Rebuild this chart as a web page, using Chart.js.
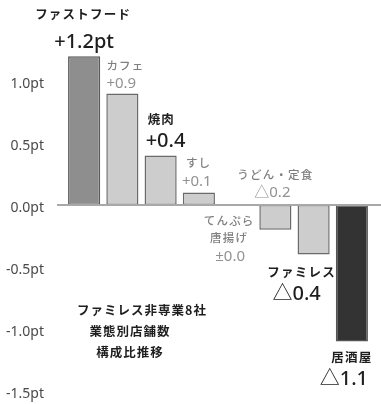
<!DOCTYPE html>
<html>
<head>
<meta charset="utf-8">
<script src="https://cdn.jsdelivr.net/npm/chart.js@4/dist/chart.umd.min.js"></script>
<style>
  html, body { margin: 0; padding: 0; background: #fff; }
  #wrap { width: 381px; height: 404px; }
</style>
</head>
<body>
<div id="wrap"><canvas id="chart"></canvas></div>
<script>
// data
const categories = ['ファストフード', 'カフェ', '焼肉', 'すし', 'てんぷら唐揚げ', 'うどん・定食', 'ファミレス', '居酒屋'];
const changes = [1.2, 0.9, 0.4, 0.1, 0.0, -0.2, -0.4, -1.1];
const nameLines = [['ファストフード'], ['カフェ'], ['焼肉'], ['すし'], ['てんぷら', '唐揚げ'], ['うどん・定食'], ['ファミレス'], ['居酒屋']];
const valueTexts = ['+1.2pt', '+0.9', '+0.4', '+0.1', '±0.0', '△0.2', '△0.4', '△1.1'];
const yTicks = [-1.5, -1.0, -0.5, 0.0, 0.5, 1.0];
const captionLines = ['ファミレス非専業8社', '業態別店舗数', '構成比推移'];

// styles
const barFill = ['#8e8e8e', '#cdcdcd', '#cdcdcd', '#cdcdcd', '#cdcdcd', '#cdcdcd', '#cdcdcd', '#333333'];
const barBorder = ['#5a5a5a', '#6a6a6a', '#6a6a6a', '#6a6a6a', '#6a6a6a', '#6a6a6a', '#6a6a6a', '#555555'];
const FONT = "'Noto Sans', 'Noto Sans CJK JP', sans-serif";
const JFONT = "'Noto Sans CJK JP', sans-serif";

// label layout: strong = bold black, else light gray. ref: 'end' = bar end, 'zero' = zero line
const labelStyle = [
  { strong: true,  align: 'center', ref: 'end',  nx: -1,  ny: -42, vx: 0,   vy: -14 },
  { strong: false, align: 'left',   ref: 'end',  nx: -16, ny: -28, vx: -16, vy: -10 },
  { strong: true,  align: 'left',   ref: 'end',  nx: -13, ny: -36, vx: -15, vy: -14 },
  { strong: false, align: 'left',   ref: 'end',  nx: -13, ny: -30, vx: -17, vy: -11 },
  { strong: false, align: 'center', ref: 'zero', nx: -8,  ny: 16,  vx: -7,  vy: 52, lh: 17 },
  { strong: false, align: 'center', ref: 'zero', nx: 0,   ny: -30, vx: -3,  vy: -12 },
  { strong: true,  align: 'center', ref: 'end',  nx: -12, ny: 18,  vx: -17, vy: 40 },
  { strong: true,  align: 'center', ref: 'end',  nx: 0,   ny: 16,  vx: -8,  vy: 38 }
];

function setSpacing(ctx, px) {
  if ('letterSpacing' in ctx) ctx.letterSpacing = px + 'px';
}

const labelsPlugin = {
  id: 'labels',
  afterDatasetsDraw(chart) {
    const ctx = chart.ctx;
    const y = chart.scales.y;
    const zeroY = y.getPixelForValue(0);
    const bars = chart.getDatasetMeta(0).data;

    // zero line
    ctx.save();
    ctx.strokeStyle = '#a8a8a8';
    ctx.lineWidth = 2;
    ctx.beginPath();
    ctx.moveTo(chart.chartArea.left - 8, zeroY);
    ctx.lineTo(chart.width, zeroY);
    ctx.stroke();
    ctx.restore();

    bars.forEach((bar, i) => {
      const s = labelStyle[i];
      const cx = bar.x;
      const baseY = s.ref === 'zero' ? zeroY : y.getPixelForValue(changes[i]);
      ctx.save();
      ctx.textAlign = s.align;
      ctx.textBaseline = 'middle';
      // name
      ctx.fillStyle = s.strong ? '#1e1e1e' : '#808080';
      ctx.font = (s.strong ? 'bold 12.5px ' : '500 11.5px ') + JFONT;
      setSpacing(ctx, 1.2);
      nameLines[i].forEach((ln, k) => {
        ctx.fillText(ln, cx + s.nx, baseY + s.ny + k * (s.lh || 0));
      });
      // value
      setSpacing(ctx, 0);
      if (s.strong) {
        ctx.fillStyle = '#1e1e1e';
        ctx.font = '500 20px ' + FONT;
      } else {
        ctx.fillStyle = '#929292';
        ctx.font = '15px ' + FONT;
      }
      ctx.fillText(valueTexts[i], cx + s.vx, baseY + s.vy);
      ctx.restore();
    });

    // caption
    ctx.save();
    ctx.fillStyle = '#1e1e1e';
    ctx.font = 'bold 12.5px ' + JFONT;
    ctx.textBaseline = 'middle';
    ctx.textAlign = 'center';
    setSpacing(ctx, 1);
    const capX = chart.chartArea.left + 65;
    const capY = y.getPixelForValue(-0.85);
    captionLines.forEach((ln, k) => {
      ctx.fillText(ln, capX + (k === 0 ? 12 : 0), capY + k * 21);
    });
    ctx.restore();
  }
};

new Chart(document.getElementById('chart'), {
  type: 'bar',
  data: {
    labels: categories,
    datasets: [{
      data: changes,
      backgroundColor: barFill,
      borderColor: barBorder,
      borderWidth: 1.5,
      borderSkipped: false,
      barPercentage: 0.84,
      categoryPercentage: 1.0
    }]
  },
  options: {
    responsive: true,
    maintainAspectRatio: false,
    animation: false,
    devicePixelRatio: 1,
    layout: { padding: { top: 19, bottom: 13, right: 10, left: 0 } },
    plugins: { legend: { display: false }, tooltip: { enabled: false } },
    scales: {
      x: { display: false },
      y: {
        min: -1.5,
        max: 1.5,
        afterBuildTicks: (scale) => { scale.ticks = yTicks.map(v => ({ value: v })); },
        afterFit: (scale) => {
          scale.width = 65;
          scale.paddingTop = 0;
          scale.paddingBottom = 0;
        },
        grid: { display: false },
        border: { display: false },
        ticks: {
          padding: 13,
          labelOffset: 3,
          color: '#4a4a4a',
          font: { family: FONT, size: 14 },
          callback: (v) => v.toFixed(1) + 'pt'
        }
      }
    }
  },
  plugins: [labelsPlugin]
});
</script>
</body>
</html>
